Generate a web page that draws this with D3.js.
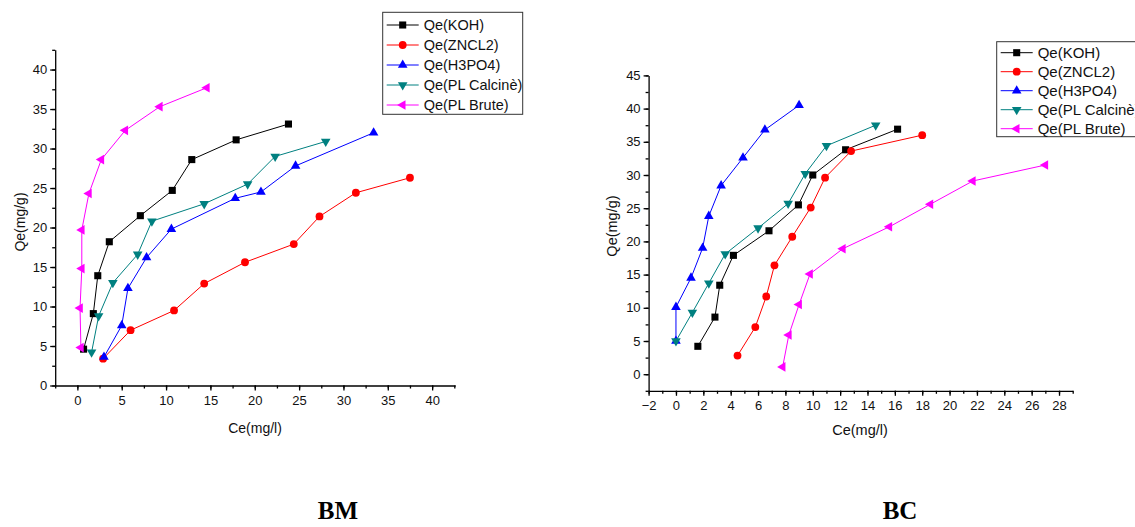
<!DOCTYPE html>
<html>
<head>
<meta charset="utf-8">
<script src="https://cdn.jsdelivr.net/npm/d3@7"></script>
<style>
  body { margin: 0; background: #fff; }
  svg text { font-family: "Liberation Sans", Arial, sans-serif; fill: #111; }
</style>
</head>
<body>
<div id="chart"></div>
<script>
// Adsorption isotherms, Qe vs Ce, two panels (BM / BC)

const seriesNames = ["Qe(KOH)", "Qe(ZNCL2)", "Qe(H3PO4)", "Qe(PL Calcinè)", "Qe(PL Brute)"];
const seriesColors = ["#000000", "#ff0000", "#0000ff", "#008080", "#ff00ff"];
const seriesSymbols = ["square", "circle", "up", "down", "left"];

// BM panel: [Ce, Qe]
const bmKOH = [[0.7,4.6],[1.8,9.1],[2.3,13.9],[3.6,18.2],[7.1,21.5],[10.7,24.7],[12.9,28.6],[17.9,31.1],[23.8,33.1]];
const bmZNCL2 = [[2.9,3.4],[6.0,7.0],[10.9,9.5],[14.3,12.9],[18.9,15.6],[24.4,17.9],[27.3,21.4],[31.4,24.4],[37.5,26.3]];
const bmH3PO4 = [[3.0,3.6],[5.0,7.6],[5.7,12.3],[7.8,16.2],[10.6,19.8],[17.8,23.7],[20.7,24.5],[24.6,27.8],[33.4,32.0]];
const bmCalcine = [[1.6,4.2],[2.4,8.8],[4.0,13.0],[6.8,16.6],[8.4,20.8],[14.3,23.0],[19.2,25.5],[22.3,29.0],[28.0,30.9]];
const bmBrute = [[0.4,4.8],[0.3,9.8],[0.5,14.8],[0.5,19.7],[1.3,24.3],[2.7,28.6],[5.4,32.3],[9.3,35.3],[14.6,37.7]];

// BC panel: [Ce, Qe]
const bcKOH = [[1.6,4.2],[2.85,8.6],[3.2,13.4],[4.2,17.9],[6.8,21.6],[8.95,25.5],[10.0,30.0],[12.4,33.8],[16.2,36.9]];
const bcZNCL2 = [[4.5,2.8],[5.8,7.1],[6.6,11.7],[7.2,16.4],[8.5,20.7],[9.85,25.1],[10.9,29.6],[12.8,33.6],[18.0,36.0]];
const bcH3PO4 = [[0,5.0],[0,10.1],[1.1,14.5],[1.95,19.0],[2.4,23.8],[3.3,28.4],[4.9,32.6],[6.5,36.8],[9.0,40.5]];
const bcCalcine = [[0,5.0],[1.2,9.3],[2.4,13.7],[3.6,18.1],[6.0,22.0],[8.2,25.7],[9.45,30.2],[11.0,34.4],[14.6,37.5]];
const bcBrute = [[7.8,1.1],[8.25,5.9],[9.0,10.5],[9.8,15.1],[12.2,18.9],[15.6,22.2],[18.6,25.6],[21.7,29.1],[27.0,31.5]];

const bmTicksX = d3.range(0, 41, 5), bmMinorX = d3.range(-2.5, 42.6, 2.5);
const bmTicksY = d3.range(0, 41, 5), bmMinorY = d3.range(0, 42.6, 2.5);
const bcTicksX = d3.range(-2, 29, 2), bcMinorX = d3.range(-2, 29.1, 1);
const bcTicksY = d3.range(0, 46, 5), bcMinorY = d3.range(-2.5, 45.1, 2.5);

const svg = d3.select("#chart").append("svg")
    .attr("width", 1135)
    .attr("height", 527);

const panels = [
  { data: [bmKOH, bmZNCL2, bmH3PO4, bmCalcine, bmBrute],
    xDom: [-2.5, 42.6], xRange: [55.2, 455.2], yDom: [0, 42.5], yRange: [385.5, 49.8],
    ticksX: bmTicksX, minorX: bmMinorX, ticksY: bmTicksY, minorY: bmMinorY,
    xLabel: [255, 433], yLabel: [25, 222], font: 13, titleFont: 14,
    legend: { x: 382.7, y: 12.3, w: 140, h: 102, row0: 25, step: 20, font: 14.5 },
    name: "BM", nameX: 338 },
  { data: [bcKOH, bcZNCL2, bcH3PO4, bcCalcine, bcBrute],
    xDom: [-2, 29], xRange: [648.6, 1072.7], yDom: [-2.5, 45], yRange: [390.8, 75.4],
    ticksX: bcTicksX, minorX: bcMinorX, ticksY: bcTicksY, minorY: bcMinorY,
    xLabel: [860, 435], yLabel: [617, 226], font: 13, titleFont: 14.5,
    legend: { x: 996.7, y: 41.7, w: 160, h: 95, row0: 52.7, step: 19, font: 15 },
    name: "BC", nameX: 900 }
];

function symbolPath(kind) {
  if (kind === "square") return d3.symbol(d3.symbolSquare, 50)();
  if (kind === "circle") return d3.symbol(d3.symbolCircle, 48)();
  return d3.symbol(d3.symbolTriangle, 40)();
}
function symbolRotate(kind) {
  if (kind === "down") return 180;
  if (kind === "left") return -90;
  return 0;
}

panels.forEach(p => {
  const x = d3.scaleLinear().domain(p.xDom).range(p.xRange);
  const y = d3.scaleLinear().domain(p.yDom).range(p.yRange);
  const g = svg.append("g");

  // Bottom axis with minor ticks
  const xAxis = g.append("g")
      .attr("transform", `translate(0,${p.yRange[0]})`)
      .call(d3.axisBottom(x).tickValues(p.ticksX).tickSize(5).tickSizeOuter(0).tickFormat(d3.format("d")));
  g.append("g")
      .attr("transform", `translate(0,${p.yRange[0]})`)
      .call(d3.axisBottom(x).tickValues(p.minorX).tickSize(3).tickSizeOuter(0).tickFormat(""))
      .select(".domain").remove();
  xAxis.selectAll("text").style("font-size", p.font + "px").attr("dy", "0.9em");

  // Left axis with minor ticks
  const yAxis = g.append("g")
      .attr("transform", `translate(${p.xRange[0]},0)`)
      .call(d3.axisLeft(y).tickValues(p.ticksY).tickSize(5).tickSizeOuter(0));
  g.append("g")
      .attr("transform", `translate(${p.xRange[0]},0)`)
      .call(d3.axisLeft(y).tickValues(p.minorY).tickSize(3).tickSizeOuter(0).tickFormat(""))
      .select(".domain").remove();
  yAxis.selectAll("text").style("font-size", p.font + "px");

  g.selectAll(".domain, .tick line").attr("stroke", "#000").attr("stroke-width", 1.3);

  // Axis titles
  g.append("text")
      .attr("x", p.xLabel[0]).attr("y", p.xLabel[1])
      .attr("text-anchor", "middle")
      .style("font-size", p.titleFont + "px")
      .text("Ce(mg/l)");
  g.append("text")
      .attr("transform", `translate(${p.yLabel[0]},${p.yLabel[1]}) rotate(-90)`)
      .attr("text-anchor", "middle")
      .style("font-size", p.titleFont + "px")
      .text("Qe(mg/g)");

  // Series
  const line = d3.line().x(d => x(d[0])).y(d => y(d[1]));
  p.data.forEach((pts, i) => {
    g.append("path")
        .attr("d", line(pts))
        .attr("fill", "none")
        .attr("stroke", seriesColors[i])
        .attr("stroke-width", 1);
    g.append("g").selectAll("path")
      .data(pts)
      .join("path")
        .attr("d", symbolPath(seriesSymbols[i]))
        .attr("transform", d => `translate(${x(d[0])},${y(d[1])}) rotate(${symbolRotate(seriesSymbols[i])})`)
        .attr("fill", seriesColors[i]);
  });

  // Legend
  const L = p.legend;
  g.append("rect")
      .attr("x", L.x).attr("y", L.y)
      .attr("width", L.w).attr("height", L.h)
      .attr("fill", "#fff")
      .attr("stroke", "#333")
      .attr("stroke-width", 1);
  seriesNames.forEach((name, i) => {
    const ry = L.row0 + i * L.step;
    g.append("line")
        .attr("x1", L.x + 4).attr("x2", L.x + 36)
        .attr("y1", ry).attr("y2", ry)
        .attr("stroke", seriesColors[i]).attr("stroke-width", 1);
    g.append("path")
        .attr("d", symbolPath(seriesSymbols[i]))
        .attr("transform", `translate(${L.x + 20},${ry}) rotate(${symbolRotate(seriesSymbols[i])})`)
        .attr("fill", seriesColors[i]);
    g.append("text")
        .attr("x", L.x + 41).attr("y", ry)
        .attr("dy", "0.35em")
        .style("font-size", L.font + "px")
        .text(name);
  });

  // Panel caption
  svg.append("text")
      .attr("x", p.nameX).attr("y", 519)
      .attr("text-anchor", "middle")
      .style("font-family", "'Liberation Serif', 'Times New Roman', serif")
      .style("font-weight", "bold")
      .style("font-size", "25px")
      .style("fill", "#000")
      .text(p.name);
});
</script>
</body>
</html>
